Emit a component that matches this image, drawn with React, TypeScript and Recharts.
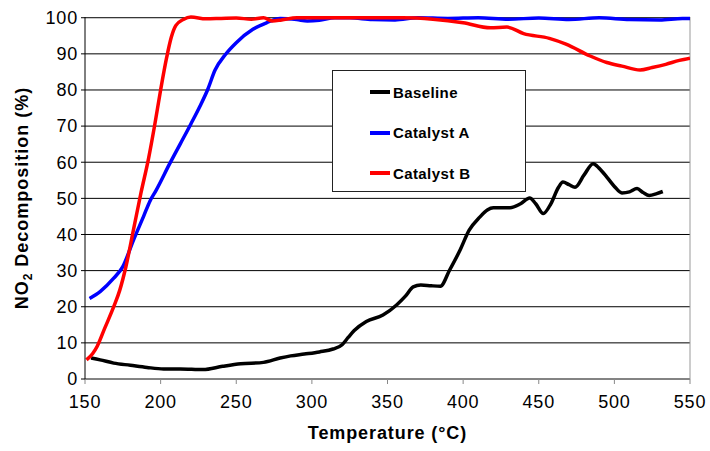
import { LineChart, Line, XAxis, YAxis, CartesianGrid, Legend, ReferenceLine } from 'recharts';

// temperatures (°C) and NO2 decomposition (%), one pair of arrays per series
const baselineTemp = [154, 160, 169, 180, 191, 202, 213, 228, 241, 253, 268, 279, 286, 295, 305, 314, 320, 324, 328, 336, 347, 356, 362, 367, 372, 379, 385, 391, 398, 404, 411, 416, 420, 431, 438, 444, 448, 453, 458, 463, 466, 470, 474, 480, 486, 490, 495, 500, 505, 510, 515, 519, 523, 528, 532];
const baselineValue = [5.8, 5.3, 4.4, 3.8, 3.2, 2.8, 2.8, 2.6, 3.5, 4.2, 4.6, 5.8, 6.4, 6.9, 7.5, 8.3, 9.5, 11.5, 13.4, 15.9, 17.7, 20.5, 23, 25.5, 26, 25.8, 25.7, 30.1, 35.7, 41.2, 44.8, 46.8, 47.4, 47.4, 48.5, 50.1, 48.5, 45.8, 48.5, 53, 54.5, 53.8, 53.1, 56.5, 59.6, 58.3, 55.9, 53.3, 51.5, 51.8, 52.7, 51.6, 50.8, 51.3, 51.9];

const catATemp = [153, 160, 169, 175, 182, 189, 193, 197, 206, 213, 220, 226, 231, 236, 243, 250, 261, 270, 279, 290, 297, 305, 315, 325, 340, 355, 370, 390, 410, 430, 450, 470, 490, 510, 530, 545, 550];
const catAValue = [22.3, 24.2, 27.9, 31.1, 38.4, 45.3, 49.3, 52.2, 59.6, 65.1, 70.6, 75.5, 80, 85.5, 89.9, 93.1, 96.8, 98.6, 99.8, 99.5, 99.1, 99.3, 100, 100, 99.5, 99.4, 100, 99.8, 100, 99.6, 99.9, 99.5, 100, 99.5, 99.4, 99.8, 99.8];

const catBTemp = [151, 155, 158, 163, 169, 173, 177, 182, 187, 192, 196, 200, 204, 207, 210, 215, 220, 230, 240, 250, 260, 268, 274, 280, 290, 300, 320, 340, 360, 380, 400, 418, 429, 440, 457, 468, 484, 495, 505, 517, 525, 534, 543, 550];
const catBValue = [5.3, 7, 9, 14, 20, 24.6, 31, 41.2, 51.5, 61, 70.1, 80, 89, 94.5, 97.8, 99.5, 100.2, 99.7, 99.8, 99.9, 99.6, 100, 99.1, 99.4, 100, 100, 100, 100, 100, 99.6, 98.6, 97.2, 97.4, 95.6, 94.3, 92.7, 89.4, 87.6, 86.6, 85.5, 86.2, 87.1, 88.2, 88.8];

const xTicks = [150, 200, 250, 300, 350, 400, 450, 500, 550];
const yTicks = [0, 10, 20, 30, 40, 50, 60, 70, 80, 90, 100];

const zip = (ts: number[], vs: number[]) => ts.map((t, i) => ({ t, v: vs[i] }));

const baselineData = zip(baselineTemp, baselineValue);
const catAData = zip(catATemp, catAValue);
const catBData = zip(catBTemp, catBValue);

const font = '"Liberation Sans", Arial, sans-serif';

function LegendBox({ payload }: any) {
  return (
    <div style={{ width: 194, height: 122, boxSizing: 'border-box', border: '1.5px solid #222', background: '#fff', paddingTop: 1 }}>
      {(payload || []).map((p: any) => (
        <div key={p.value} style={{ height: 40.5, display: 'flex', alignItems: 'center' }}>
          <div style={{ width: 20, height: 4, background: p.color, marginLeft: 37 }} />
          <span style={{ marginLeft: 3, fontFamily: font, fontWeight: 'bold', fontSize: 15, letterSpacing: 0.4, color: '#000' }}>{p.value}</span>
        </div>
      ))}
    </div>
  );
}

const yTitle = () => (
  <text transform="translate(28,198) rotate(-90)" textAnchor="middle" fontFamily={font} fontWeight="bold" fontSize={18} letterSpacing={1} fill="#000">
    NO<tspan fontSize={12} dy={4}>2</tspan><tspan dy={-4}> Decomposition (%)</tspan>
  </text>
);

export default function App() {
  return (
    <div style={{ position: 'absolute', left: 0, top: 0, width: 710, height: 451, background: '#fff' }}>
      <LineChart width={710} height={451} margin={{ top: 17, right: 20, left: 0, bottom: 42 }} style={{ fontFamily: font }}>
        <CartesianGrid vertical={false} stroke="#000" horizontalValues={yTicks} />
        <XAxis
          type="number"
          dataKey="t"
          domain={[150, 550]}
          ticks={xTicks}
          allowDataOverflow
          height={30}
          stroke="#888"
          tickSize={5}
          tickMargin={11}
          tick={{ fill: '#000', fontSize: 18, letterSpacing: 0.8 }}
          label={{ value: 'Temperature (°C)', position: 'bottom', offset: 17, fill: '#000', fontSize: 18, fontWeight: 'bold', letterSpacing: 0.9 }}
        />
        <YAxis
          type="number"
          domain={[0, 100]}
          ticks={yTicks}
          width={85}
          stroke="#000"
          tickSize={4}
          tickMargin={3}
          tick={{ fill: '#000', fontSize: 18, letterSpacing: 0.8 }}
          label={{ content: yTitle }}
        />
        <ReferenceLine x={550} stroke="#999" />
        <Legend
          layout="vertical"
          align="center"
          verticalAlign="middle"
          content={<LegendBox />}
          wrapperStyle={{ left: 332, top: 70, width: 194, height: 122 }}
        />
        <Line data={baselineData} dataKey="v" name="Baseline" type="monotone" stroke="#000" strokeWidth={3.5} dot={false} isAnimationActive={false} />
        <Line data={catAData} dataKey="v" name="Catalyst A" type="monotone" stroke="#0000ff" strokeWidth={3.5} dot={false} isAnimationActive={false} />
        <Line data={catBData} dataKey="v" name="Catalyst B" type="monotone" stroke="#ff0000" strokeWidth={3.5} dot={false} isAnimationActive={false} />
      </LineChart>
    </div>
  );
}
